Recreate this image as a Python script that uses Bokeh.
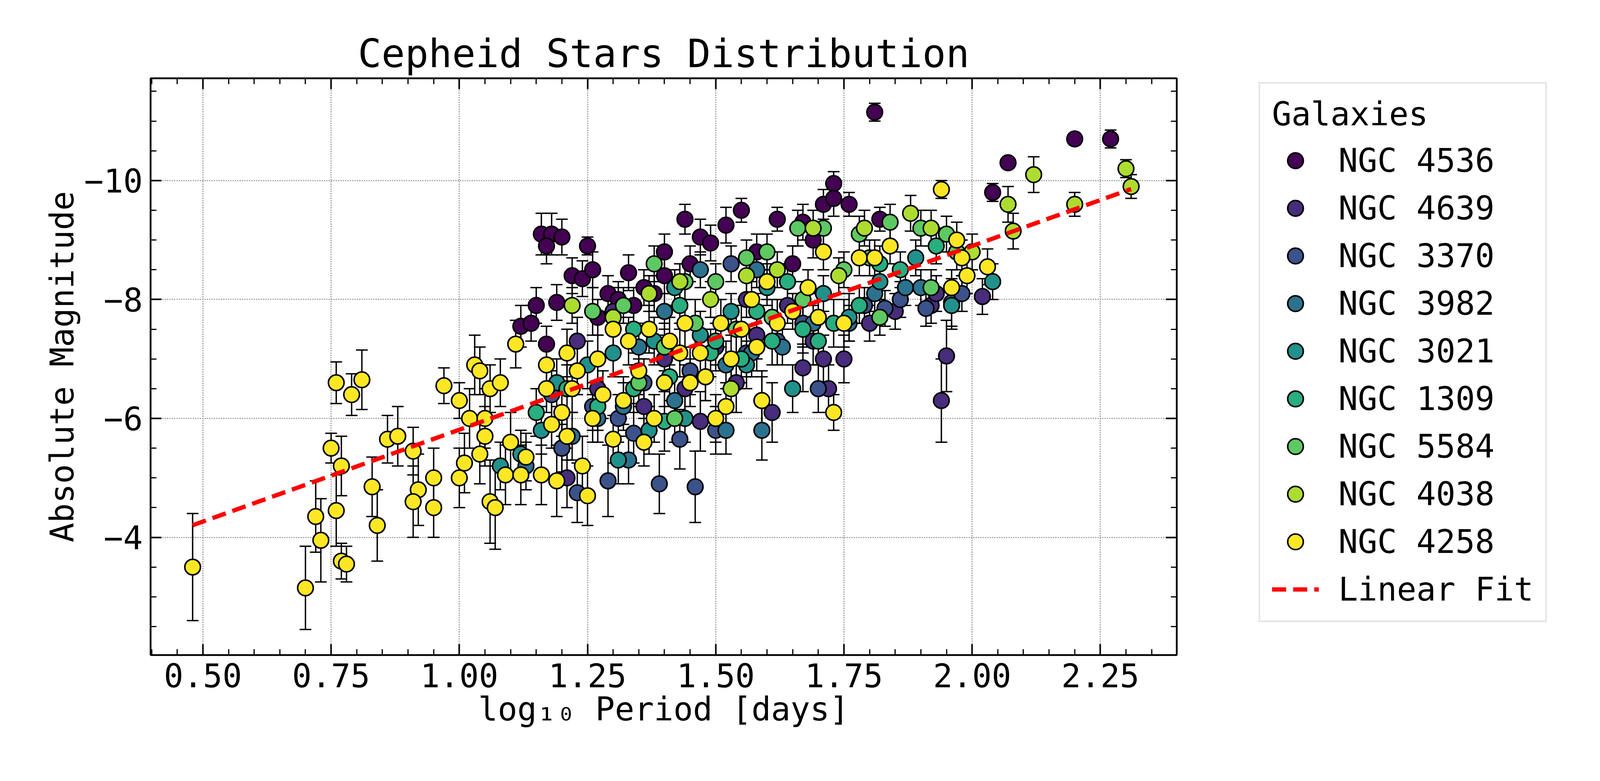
import numpy as np
from bokeh.plotting import figure
from bokeh.models import (ColumnDataSource, Range1d, FixedTicker, LinearAxis, Whisker,
                          TeeHead, Legend, LegendItem, NumeralTickFormatter)
from bokeh.embed import file_html
from bokeh.resources import INLINE

galaxies = ["NGC 4536", "NGC 4639", "NGC 3370", "NGC 3982", "NGC 3021",
            "NGC 1309", "NGC 5584", "NGC 4038", "NGC 4258"]
colors = ["#440154", "#472d7b", "#3b528b", "#2c728e", "#21918c",
          "#28ae80", "#5ec962", "#addc30", "#fde725"]

# (log10 period, absolute magnitude, error)
ngc4536 = [(1.81,-11.15,.15),(2.20,-10.7,.1),(2.27,-10.7,.15),(2.07,-10.3,.1),(2.04,-9.8,.15),
 (1.73,-9.95,.2),(1.76,-9.6,.2),(1.44,-9.35,.25),(1.55,-9.5,.2),(1.62,-9.35,.2),(1.67,-9.3,.3),
 (1.52,-9.25,.3),(1.82,-9.35,.2),(1.16,-9.1,.35),(1.18,-9.1,.35),(1.20,-9.05,.3),(1.17,-8.9,.3),
 (1.25,-8.9,.15),(1.47,-9.05,.3),(1.49,-8.95,.3),(1.71,-9.6,.25),(1.73,-9.7,.3),(1.22,-8.4,.3),
 (1.24,-8.35,.3),(1.26,-8.5,.3),(1.33,-8.45,.3),(1.40,-8.8,.3),(1.40,-8.4,.3),(1.15,-7.9,.3),
 (1.12,-7.55,.35),(1.19,-7.95,.3),(1.29,-8.1,.3),(1.31,-8.0,.3),(1.34,-7.9,.3),(1.36,-8.2,.3),
 (1.14,-7.6,.3),(1.17,-7.25,.3),(1.27,-7.7,.3),(1.58,-8.8,.3),(1.65,-8.6,.3),(1.69,-9.0,.3),
 (1.45,-8.6,.3),(1.38,-8.1,.3)]
ngc4639 = [(1.94,-6.3,.7),(1.95,-7.05,.6),(1.92,-7.9,.3),(1.93,-8.1,.3),(2.02,-8.05,.3),
 (1.72,-6.5,.4),(1.71,-7.0,.4),(1.75,-7.0,.4),(1.69,-7.3,.4),(1.67,-6.85,.4),(1.61,-6.1,.5),
 (1.47,-5.95,.5),(1.54,-6.6,.5),(1.44,-6.5,.4),(1.36,-6.2,.4),(1.21,-5.0,.5),(1.20,-5.5,.4),
 (1.27,-6.5,.4),(1.40,-7.0,.4),(1.50,-7.2,.4),(1.58,-7.4,.4),(1.80,-7.6,.3),(1.85,-7.8,.3),
 (1.64,-7.9,.3),(1.56,-8.0,.3),(1.23,-7.3,.4),(1.30,-7.8,.4)]
ngc3370 = [(1.46,-4.85,.6),(1.39,-4.9,.5),(1.29,-4.95,.6),(1.23,-4.75,.5),(1.20,-5.5,.5),
 (1.34,-5.75,.5),(1.43,-5.65,.5),(1.50,-5.8,.4),(1.59,-6.3,.5),(1.70,-6.5,.4),(1.83,-7.85,.3),
 (1.86,-8.0,.3),(1.91,-7.85,.3),(1.96,-7.95,.4),(1.98,-8.1,.3),(1.79,-7.9,.3),(1.67,-7.6,.4),
 (1.56,-7.1,.4),(1.45,-6.8,.4),(1.36,-6.6,.4),(1.26,-6.2,.4),(1.18,-6.4,.4),(1.31,-6.0,.4),
 (1.53,-8.6,.3),(1.62,-7.3,.4)]
ngc3982 = [(1.27,-6.0,.4),(1.32,-6.2,.4),(1.42,-6.3,.4),(1.48,-6.7,.4),(1.52,-6.9,.4),
 (1.57,-7.1,.4),(1.63,-7.2,.3),(1.69,-7.6,.3),(1.76,-7.6,.3),(1.81,-8.1,.3),(1.87,-8.2,.3),
 (1.90,-8.2,.3),(1.59,-5.8,.5),(1.52,-5.8,.4),(1.33,-5.3,.4),(1.22,-5.7,.4),(1.13,-5.2,.4),
 (1.58,-8.5,.3),(1.47,-8.5,.3),(1.40,-7.8,.3),(1.35,-7.2,.4)]
ngc3021 = [(1.65,-6.5,.4),(1.56,-6.9,.4),(1.47,-7.4,.4),(1.38,-7.3,.4),(1.30,-7.1,.4),
 (1.25,-6.9,.4),(1.19,-6.6,.4),(1.16,-5.8,.4),(1.12,-5.4,.4),(1.08,-5.2,.4),(1.31,-5.3,.4),
 (1.37,-5.8,.4),(1.44,-6.0,.4),(1.53,-7.8,.3),(1.60,-8.2,.3),(1.71,-8.1,.3),(1.76,-7.7,.4),
 (1.82,-8.3,.3),(1.96,-7.9,.4),(2.04,-8.3,.3),(1.89,-8.7,.3),(1.42,-8.2,.3)]
ngc1309 = [(1.27,-6.2,.4),(1.34,-6.5,.4),(1.41,-6.7,.4),(1.49,-7.1,.4),(1.55,-7.0,.4),
 (1.61,-7.3,.4),(1.67,-7.5,.4),(1.73,-7.6,.4),(1.78,-7.9,.3),(1.82,-8.6,.3),(1.86,-8.5,.3),
 (1.93,-8.9,.3),(1.64,-8.3,.3),(1.58,-7.8,.3),(1.50,-7.3,.4),(1.43,-7.9,.3),(1.34,-7.5,.4),
 (1.21,-6.5,.4),(1.15,-6.1,.4),(1.40,-5.95,.5),(1.70,-7.3,.4)]
ngc5584 = [(1.32,-7.9,.3),(1.26,-7.8,.4),(1.38,-8.6,.3),(1.44,-8.3,.3),(1.50,-8.3,.3),
 (1.56,-8.7,.3),(1.60,-8.8,.3),(1.66,-9.2,.3),(1.71,-9.2,.3),(1.78,-9.1,.3),(1.84,-9.3,.3),
 (1.90,-9.2,.3),(1.95,-9.1,.3),(1.97,-8.8,.3),(1.80,-8.7,.3),(1.75,-8.5,.3),(1.67,-8.0,.3),
 (1.61,-7.7,.3),(1.54,-7.5,.4),(1.46,-7.6,.4),(1.40,-7.2,.4),(1.35,-6.6,.4),(1.42,-6.0,.4),
 (1.82,-7.7,.3),(1.92,-8.2,.3)]
ngc4038 = [(2.30,-10.2,.15),(2.31,-9.9,.2),(2.12,-10.1,.3),(2.07,-9.6,.3),(2.20,-9.6,.2),
 (2.08,-9.15,.3),(1.88,-9.45,.3),(1.92,-9.2,.3),(1.69,-9.2,.3),(1.62,-8.5,.3),(1.56,-8.4,.3),
 (1.49,-8.0,.3),(1.43,-8.3,.3),(1.37,-8.1,.3),(1.30,-7.7,.3),(1.22,-7.9,.3),(1.74,-8.4,.3),
 (1.79,-9.2,.3),(2.00,-8.8,.3),(1.53,-6.5,.4)]
ngc4258 = [(0.48,-3.5,.9),(0.70,-3.15,.7),(0.72,-4.35,.6),(0.73,-3.95,.7),(0.76,-4.45,.6),
 (0.77,-3.6,.3),(0.78,-3.55,.3),(0.75,-5.5,.25),(0.76,-6.6,.35),(0.79,-6.4,.35),(0.81,-6.65,.5),
 (0.77,-5.2,.5),(0.83,-4.85,.5),(0.84,-4.2,.6),(0.86,-5.65,.4),(0.88,-5.7,.5),(0.91,-5.45,.4),
 (0.92,-4.8,.6),(0.91,-4.6,.6),(0.95,-5.0,.5),(0.95,-4.5,.5),(0.97,-6.55,.3),(1.00,-6.3,.3),
 (1.00,-5.0,.5),(1.01,-5.25,.5),(1.02,-6.0,.5),(1.03,-6.9,.5),(1.04,-6.8,.4),(1.05,-6.0,.5),
 (1.04,-5.4,.5),(1.05,-5.7,.5),(1.06,-4.6,.7),(1.07,-4.5,.7),(1.06,-6.5,.4),(1.08,-6.6,.4),
 (1.09,-5.05,.5),(1.10,-5.6,.5),(1.11,-7.25,.4),(1.12,-5.05,.5),(1.13,-5.35,.4),(1.16,-5.05,.5),
 (1.17,-6.9,.4),(1.17,-6.5,.4),(1.18,-5.9,.4),(1.19,-4.95,.6),(1.20,-6.1,.4),(1.21,-7.1,.4),
 (1.21,-5.7,.4),(1.22,-6.5,.4),(1.23,-6.8,.4),(1.24,-5.2,.5),(1.25,-4.7,.5),(1.27,-7.0,.4),
 (1.28,-6.4,.4),(1.30,-5.65,.4),(1.30,-7.5,.4),(1.32,-6.3,.4),(1.33,-7.3,.4),(1.35,-6.8,.4),
 (1.36,-5.6,.4),(1.37,-7.5,.4),(1.38,-6.0,.4),(1.40,-6.6,.4),(1.41,-7.3,.4),(1.43,-7.1,.4),
 (1.45,-6.6,.4),(1.47,-7.1,.4),(1.48,-6.7,.4),(1.50,-6.0,.4),(1.51,-7.6,.4),(1.52,-6.2,.4),
 (1.53,-7.0,.4),(1.55,-7.5,.4),(1.57,-8.0,.3),(1.59,-6.3,.4),(1.60,-8.3,.3),(1.62,-7.6,.4),
 (1.65,-7.8,.3),(1.68,-8.2,.3),(1.70,-7.7,.4),(1.71,-8.8,.3),(1.73,-6.1,.3),(1.75,-7.6,.4),
 (1.78,-8.7,.3),(1.81,-8.7,.3),(1.84,-8.9,.3),(1.94,-9.85,.15),(1.96,-8.2,.3),(1.97,-9.0,.3),
 (1.98,-8.7,.3),(1.99,-8.4,.3),(2.03,-8.55,.3),(1.58,-7.2,.4),(1.44,-7.6,.4),(1.26,-6.0,.4)]
series = [ngc4536, ngc4639, ngc3370, ngc3982, ngc3021, ngc1309, ngc5584, ngc4038, ngc4258]

fit_x = [0.48, 2.31]
fit_slope = -3.09
fit_intercept = -2.72

x_ticks = [0.5, 0.75, 1.0, 1.25, 1.5, 1.75, 2.0, 2.25]
y_ticks = [-10, -8, -6, -4]

FONT = "DejaVu Sans Mono"
FS = "83px"

p = figure(width=4150, height=1977, output_backend="svg", toolbar_location=None,
           x_range=Range1d(0.398, 2.399), y_range=Range1d(-2.02, -11.72),
           min_border_left=385, min_border_top=200, min_border_bottom=300, min_border_right=990,
           title="Cepheid Stars Distribution")
p.title.text_font = FONT
p.title.text_font_size = "100px"
p.title.text_font_style = "normal"
p.title.text_color = "black"
p.title.align = "center"
p.outline_line_color = "black"
p.outline_line_width = 4

xt = FixedTicker(ticks=x_ticks, minor_ticks=list(np.round(np.arange(0.40, 2.401, 0.05), 2)))
yt = FixedTicker(ticks=y_ticks, minor_ticks=list(np.arange(-11.5, -1.9, 0.5)))

def style_axis(ax, labels=True):
    ax.major_tick_in = 28
    ax.major_tick_out = 0
    ax.minor_tick_in = 15
    ax.minor_tick_out = 0
    ax.major_tick_line_width = 4
    ax.minor_tick_line_width = 3
    ax.axis_line_width = 4
    ax.major_label_text_font = FONT
    ax.major_label_text_font_size = FS
    ax.major_label_text_color = "black"
    ax.axis_label_text_font = FONT
    ax.axis_label_text_font_size = FS
    ax.axis_label_text_font_style = "normal"
    ax.axis_label_text_color = "black"
    if not labels:
        ax.major_label_text_alpha = 0
        ax.major_label_text_font_size = "1px"

p.xaxis.ticker = xt
p.yaxis.ticker = yt
p.xaxis.formatter = NumeralTickFormatter(format="0.00")
p.xaxis.axis_label = "log₁₀ Period [days]"
p.yaxis.axis_label = "Absolute Magnitude"
style_axis(p.xaxis[0]); style_axis(p.yaxis[0])
p.xaxis.major_label_standoff = 20
p.yaxis.major_label_standoff = 20
top = LinearAxis(ticker=xt); style_axis(top, False)
right = LinearAxis(ticker=yt); style_axis(right, False)
p.add_layout(top, "above"); p.add_layout(right, "right")

p.xgrid.ticker = xt
p.ygrid.ticker = yt
for g in (p.xgrid, p.ygrid):
    g.grid_line_color = "#999999"
    g.grid_line_dash = "3 3"
    g.grid_line_width = 3

items = []
renderers = []
for name, col, data in zip(galaxies, colors, series):
    x = [d[0] for d in data]; y = [d[1] for d in data]; e = [d[2] for d in data]
    src = ColumnDataSource(dict(x=x, y=y, lo=[a - b for a, b in zip(y, e)],
                                hi=[a + b for a, b in zip(y, e)]))
    w = Whisker(base="x", upper="hi", lower="lo", source=src, dimension="height",
                line_color="black", line_width=3.5,
                upper_head=TeeHead(size=30, line_width=3.5, line_color="black"),
                lower_head=TeeHead(size=30, line_width=3.5, line_color="black"))
    p.add_layout(w)
    renderers.append((name, src, col))

for name, src, col in renderers:
    r = p.scatter("x", "y", source=src, size=40, fill_color=col, line_color="black", line_width=4)
    items.append(LegendItem(label=name, renderers=[r]))

fy = [fit_intercept + fit_slope * v for v in fit_x]
lf = p.line(fit_x, fy, line_color="red", line_width=11, line_dash="36 18")
items.append(LegendItem(label="Linear Fit", renderers=[lf]))

leg = Legend(items=items, title="Galaxies", location="top_left")
leg.title_text_font = FONT
leg.title_text_font_size = FS
leg.title_text_font_style = "normal"
leg.title_text_color = "black"
leg.title_standoff = 20
leg.label_text_font = FONT
leg.label_text_font_size = FS
leg.label_text_color = "black"
leg.glyph_width = 120
leg.glyph_height = 100
leg.spacing = 22
leg.label_standoff = 50
leg.padding = 30
leg.margin = 10
leg.border_line_color = "#cccccc"
leg.border_line_width = 4
p.add_layout(leg, "right")

open("out.html", "w").write(file_html(p, INLINE))
